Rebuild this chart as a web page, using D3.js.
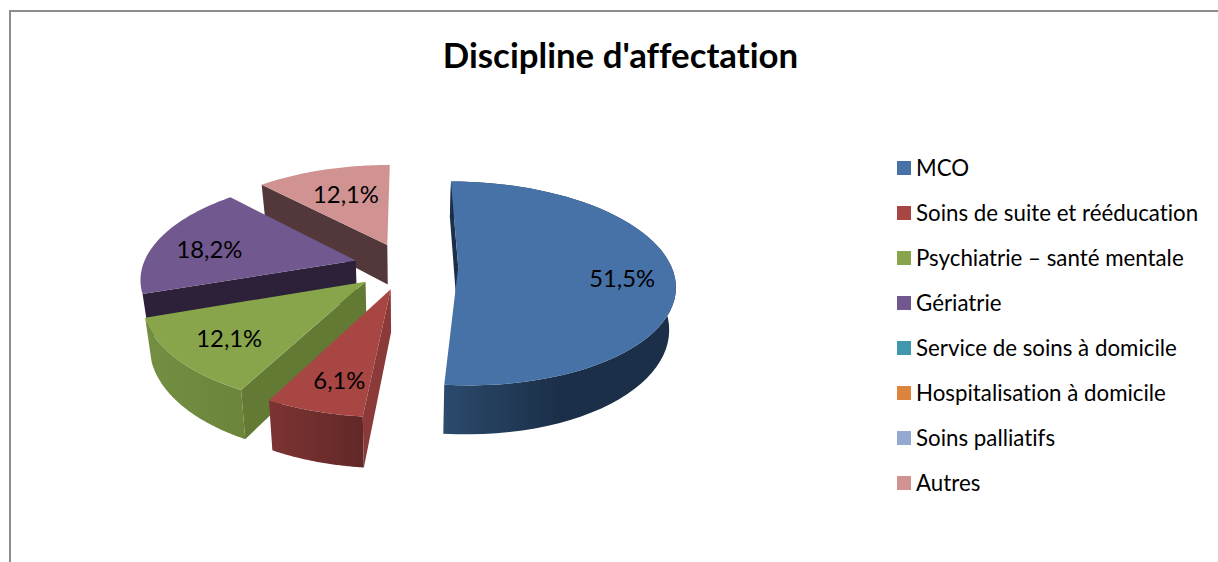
<!DOCTYPE html>
<html>
<head>
<meta charset="utf-8">
<script src="https://cdn.jsdelivr.net/npm/d3@7"></script>
<style>
    html, body { margin: 0; padding: 0; background: #fff; }
    svg { display: block; font-family: Lato, "Open Sans", sans-serif; font-variant-ligatures: none; }
</style>
</head>
<body>
<svg id="chart" width="1218" height="562"></svg>
<script>
const categories = ['MCO', 'Soins de suite et rééducation', 'Psychiatrie – santé mentale', 'Gériatrie',
    'Service de soins à domicile', 'Hospitalisation à domicile', 'Soins palliatifs', 'Autres'];
const values = [51.5, 6.1, 12.1, 18.2, 0, 0, 0, 12.1];
const valueLabels = ['51,5%', '6,1%', '12,1%', '18,2%', '', '', '', '12,1%'];
const title = "Discipline d'affectation";

const topColors = ['#4672a8', '#a84644', '#88a54c', '#71588f', '#4097ae', '#dd843c', '#94a9d0', '#d09392'];
const wallColors = ['#1b2f48', '#8a3a38', '#637a35', '#2c2138', '#2c6a7a', '#9a5c2a', '#67768f', '#52383a'];
const sideLeft = ['#2b4a6c', '#7c3432', '#748f42', '#4a3a60', '#2c6a7a', '#9a5c2a', '#67768f', '#8c6362'];
const sideRight = ['#1b2f48', '#622828', '#6b853b', '#3a2d4c', '#2c6a7a', '#9a5c2a', '#67768f', '#8c6362'];

// projection of the tilted pie, k is the perspective strength
const cx = 406, cy = 266, rx = 213, ry = 99, k = 0.16, explode = 0.245, depth = 41;

const project = (r, a, mid, z) => {
    const X = r * Math.sin(a) + explode * Math.sin(mid);
    const Y = r * Math.cos(a) + (explode - 0.008) * Math.cos(mid);
    const s = 1 / (1 + k * Y);
    // the bottom face sits further away so it is a bit narrower
    return [cx + X * rx * s * (z ? 0.975 : 1), cy - Y * ry * s + (z ? depth * s : 0)];
};

const svg = d3.select('#chart');

// chart frame, only top and left edges are in the picture
svg.append('path')
    .attr('d', d3.line()([[10, 562], [10, 11], [1218, 11]]))
    .attr('fill', 'none')
    .attr('stroke', '#8c8c8c')
    .attr('stroke-width', 2);

svg.append('text')
    .attr('x', 620.5)
    .attr('y', 68)
    .attr('text-anchor', 'middle')
    .attr('font-size', 34.8)
    .attr('font-weight', 700)
    .attr('fill', '#000')
    .text(title);

const pie = d3.pie()
    .sort(null)
    .startAngle(0)
    .endAngle(2 * Math.PI);

const slices = pie(values).map((d, i) => ({ ...d, i, mid: (d.startAngle + d.endAngle) / 2 }))
    .filter(d => d.value > 0);

const arcPoints = (d, z) => d3.range(0, 61)
    .map(t => project(1, d.startAngle + (d.endAngle - d.startAngle) * t / 60, d.mid, z));

const line = d3.line();
const defs = svg.append('defs');

// back to front
const drawOrder = [7, 3, 0, 2, 1];
const sliceG = svg.append('g')
    .selectAll('g')
    .data(drawOrder.map(i => slices.find(d => d.i === i)))
    .join('g');

sliceG.each(function (d) {
    const g = d3.select(this);
    const top = arcPoints(d, false);
    const bottom = arcPoints(d, true);
    const apex = project(0, 0, d.mid, false);
    const apexLow = project(0, 0, d.mid, true);

    const gradId = 'side' + d.i;
    const xs = d3.extent(top, p => p[0]);
    const grad = defs.append('linearGradient')
        .attr('id', gradId)
        .attr('gradientUnits', 'userSpaceOnUse')
        .attr('x1', xs[0]).attr('x2', d.i === 0 ? xs[0] + 0.5 * (xs[1] - xs[0]) : xs[1])
        .attr('y1', 0).attr('y2', 0);
    grad.append('stop').attr('offset', 0).attr('stop-color', sideLeft[d.i]);
    grad.append('stop').attr('offset', 1).attr('stop-color', sideRight[d.i]);

    // the rim only shows on slices that are in the front half
    if (Math.cos(d.mid) < 0.5 && Math.sin(d.mid) > -0.9) {
        g.append('path')
            .attr('d', line(top.concat(bottom.slice().reverse())) + 'Z')
            .attr('fill', `url(#${gradId})`);
    }
    // start cut face
    g.append('path')
        .attr('d', line([apex, top[0], bottom[0], apexLow]) + 'Z')
        .attr('fill', wallColors[d.i]);
    g.append('path')
        .attr('d', line([apex].concat(top)) + 'Z')
        .attr('fill', topColors[d.i]);
});

// small corrections so the labels sit where the best-fit placement put them
const labelNudge = { 0: [5, 16], 1: [3, 14], 2: [0, 11], 3: [0, 14], 7: [8, 15] };
sliceG.append('text')
    .attr('x', d => project(0.74, d.mid, d.mid, false)[0] + labelNudge[d.i][0])
    .attr('y', d => project(0.74, d.mid, d.mid, false)[1] + labelNudge[d.i][1])
    .attr('text-anchor', 'middle')
    .attr('font-size', 23.8)
    .attr('fill', '#000')
    .text(d => valueLabels[d.i]);

// legend
const legendY = d3.scalePoint()
    .domain(categories)
    .range([168, 483]);

const legend = svg.append('g')
    .selectAll('g')
    .data(categories)
    .join('g')
    .attr('transform', d => `translate(897,${legendY(d)})`);

legend.append('rect')
    .attr('y', -7)
    .attr('width', 14)
    .attr('height', 14)
    .attr('fill', (d, i) => topColors[i]);

legend.append('text')
    .attr('x', 19)
    .attr('y', 8)
    .attr('font-size', 22.3)
    .attr('fill', '#000')
    .text(d => d);
</script>
</body>
</html>
